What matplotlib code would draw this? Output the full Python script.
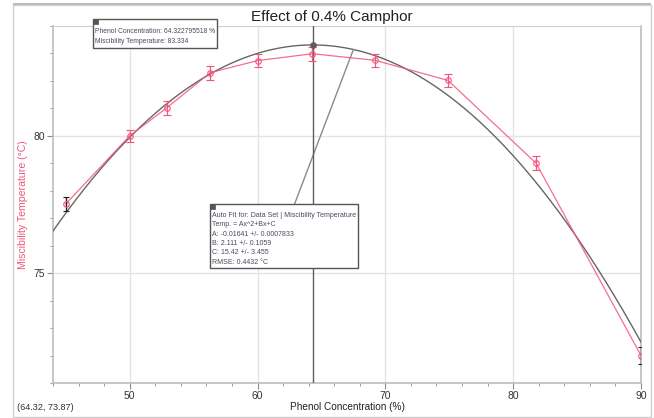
import numpy as np
import matplotlib.pyplot as plt
from matplotlib.patches import Rectangle

plt.rcParams['font.family'] = ['Liberation Sans Narrow', 'Liberation Sans', 'DejaVu Sans']

# Datos medidos: concentración de fenol vs temperatura de miscibilidad.
phenol = [45.0, 50.0, 52.9, 56.3, 60.0, 64.3, 69.2, 74.9, 81.8, 90.0]
temp = [77.52, 80.0, 81.02, 82.3, 82.74, 82.99, 82.75, 82.02, 79.0, 72.0]
err = [0.25, 0.22, 0.25, 0.25, 0.24, 0.25, 0.24, 0.25, 0.25, 0.3]

# Ajuste cuadrático: Temp = A x^2 + B x + C
A, B, C = -0.01641, 2.111, 15.42
x_cursor = 64.322795518
x_callout = 67.5

fit_lines = [
    "Auto Fit for: Data Set | Miscibility Temperature",
    "Temp. = Ax^2+Bx+C",
    "A: -0.01641 +/- 0.0007833",
    "B: 2.111 +/- 0.1059",
    "C: 15.42 +/- 3.455",
    "RMSE: 0.4432 \u00b0C",
]
cursor_lines = [
    "Phenol Concentration: 64.322795518 %",
    "Miscibility Temperature: 83.334",
]

pink = "#f2557d"
W, H = 654, 418
fig = plt.figure(figsize=(W / 100, H / 100), dpi=100)
ax = fig.add_axes([53 / W, 1 - 383 / H, (641 - 53) / W, (383 - 26) / H])

def fit(x):
    return A * np.asarray(x) ** 2 + B * np.asarray(x) + C

# Curva del ajuste.
xx = np.linspace(44, 90, 300)
ax.plot(xx, fit(xx), color="#666666", lw=1.0, zorder=3)

# Datos con barras de error.
ax.plot(phenol, temp, color=pink, lw=0.9, alpha=0.85, zorder=4)
ax.errorbar(phenol[1:-1], temp[1:-1], yerr=err[1:-1], fmt="o", ms=4,
            mfc="none", mec=pink, mew=0.8, ecolor=pink, elinewidth=0.9,
            capsize=3, capthick=0.9, zorder=5)
ax.errorbar([phenol[0], phenol[-1]], [temp[0], temp[-1]],
            yerr=[err[0], err[-1]], fmt="o", ms=4, mfc="none", mec=pink,
            mew=0.8, ecolor="#202020", elinewidth=1.0, capsize=2.5,
            capthick=1.0, zorder=5)

# Cursor vertical en el máximo.
ax.axvline(x_cursor, color="#5e5e5e", lw=1.0, zorder=4)
ax.plot([x_cursor], [fit(x_cursor)], "o", ms=3.8, color="#5e5e5e", zorder=6)

# Línea que une el recuadro del ajuste con la curva.
ax.plot([62.9, x_callout], [77.52, fit(x_callout)], color="#8a8a8a", lw=1.0, zorder=3)

ax.set_xlim(44, 90)
ax.set_ylim(71, 84)
ax.set_xticks([50, 60, 70, 80, 90])
ax.set_xticks(np.arange(44, 91, 2), minor=True)
ax.set_yticks([75, 80])
ax.set_yticks(np.arange(71, 85, 1), minor=True)
ax.grid(True, which="major", color="#e4e4e4", lw=1.0)
ax.set_axisbelow(True)
ax.tick_params(which="both", direction="out", colors="#8a8a8a",
               labelcolor="#333333", labelsize=7.5, length=4, pad=1.5)
ax.tick_params(which="minor", length=2.5)
for side in ["left", "bottom", "right"]:
    ax.spines[side].set_color("#bdbdbd")
    ax.spines[side].set_linewidth(1.2)
ax.spines["top"].set_color("#cfcfcf")

ax.set_xlabel("Phenol Concentration (%)", fontsize=7.2, color="#222222", labelpad=1)
ax.set_ylabel("Miscibility Temperature (\u00b0C)", fontsize=7.6, color=pink, labelpad=4)
fig.text(332 / W, 1 - 17 / H, "Effect of 0.4% Camphor", ha="center", va="center",
         fontsize=11, color="#222222")

# Recuadros de información (cursor y ajuste).
def info_box(x0, y0, x1, y1, lines, fs):
    fig.patches.append(Rectangle((x0 / W, 1 - y1 / H), (x1 - x0) / W, (y1 - y0) / H,
                                 transform=fig.transFigure, fc="white",
                                 ec="#555555", lw=1.0, zorder=10))
    fig.patches.append(Rectangle((x0 / W, 1 - (y0 + 5) / H), 5 / W, 5 / H,
                                 transform=fig.transFigure, fc="#555555",
                                 ec="#555555", lw=0.5, zorder=11))
    step = (y1 - y0 - 8) / len(lines)
    for i, line in enumerate(lines):
        fig.text((x0 + 2) / W, 1 - (y0 + 7 + step * (i + 0.5)) / H, line,
                 fontsize=fs, color="#4a4a5e", va="center", ha="left", zorder=12)

info_box(93, 19, 217, 48, cursor_lines, 4.9)
info_box(210, 204, 358, 268, fit_lines, 5.0)

fig.text(17 / W, 1 - 407 / H, "(64.32, 73.87)", fontsize=6.6, color="#333333",
         va="center")

# Marco exterior.
fig.patches.append(Rectangle((13 / W, 1 / H), (651 - 13) / W, (413 - 1) / H,
                             transform=fig.transFigure, fill=False,
                             ec="#d0d0d0", lw=1.0))
fig.patches.append(Rectangle((13 / W, 1 - 5 / H), (651 - 13) / W, 2 / H,
                             transform=fig.transFigure, fc="#bbbbbb", ec="none"))

fig.savefig("out.png", dpi=100)
